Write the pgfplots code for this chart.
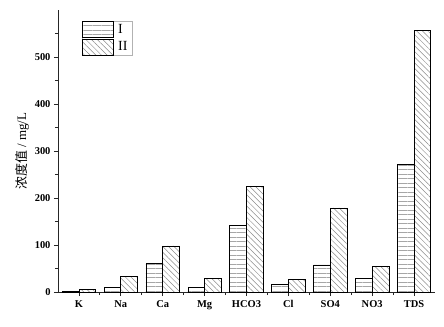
\documentclass[border=0pt]{standalone}
\usepackage{pgfplots}
\pgfplotsset{compat=1.18}
\usepackage{fontspec}
\setmainfont{Liberation Serif}
\newfontfamily\cjk{Noto Sans CJK SC}
\usetikzlibrary{patterns.meta}
\pgfplotsset{my box legend/.style={legend image code/.code={\draw[##1] (0bp,-8bp) rectangle (31bp,8bp);}}}

\begin{document}
\begin{tikzpicture}
\begin{axis}[
  width=377bp, height=282bp, scale only axis,
  xmin=-0.5, xmax=8.5, ymin=0, ymax=600,
  axis lines=left, axis line style={-, line width=0.9pt, black!85},
  ybar=0pt, bar width=0.4,
  xtick={0,...,8}, xticklabels={K,Na,Ca,Mg,HCO3,Cl,SO4,NO3,TDS},
  minor xtick={0.5,1.5,...,7.5},
  ytick={0,100,...,500}, minor ytick={50,150,...,550},
  tick align=outside, major tick length=4bp, minor tick length=3bp,
  tick style={black!85, line width=0.8pt},
  ticklabel style={font=\bfseries\fontsize{10.5}{11}\selectfont},
  xticklabel style={yshift=-1bp},
  /pgf/number format/assume math mode=true,
  ylabel={{\cjk 浓度值} / mg/L},
  ylabel style={font=\fontsize{13}{14}\selectfont, yshift=-1bp},
  legend style={at={(0.064,0.961)}, anchor=north west, draw=gray!60,
    inner sep=0pt, outer sep=0pt, row sep=1bp, font=\fontsize{14}{14}\selectfont,
    nodes={inner sep=2bp, text width=14bp}},
  legend cell align=left,
]
\addplot[draw=black, line width=0.7pt,
  pattern={Lines[angle=0, distance=4.5bp, line width=0.5pt]}, pattern color=gray!70,
  my box legend]
  coordinates {(0,1.5) (1,10.5) (2,60) (3,10.5) (4,141) (5,15.5) (6,57.5) (7,28) (8,272)};
\addplot[draw=black, line width=0.7pt,
  pattern={Lines[angle=-45, distance=4bp, line width=0.5pt]}, pattern color=gray!90,
  my box legend]
  coordinates {(0,5.5) (1,33) (2,98) (3,28) (4,225) (5,27.5) (6,179) (7,55) (8,557)};
\legend{\,I, \,II}
\end{axis}
\pgfresetboundingbox
\path[use as bounding box] ([shift={(-58bp,-35bp)}]current axis.south west) rectangle ([shift={(9bp,10bp)}]current axis.north east);
\end{tikzpicture}
\end{document}
